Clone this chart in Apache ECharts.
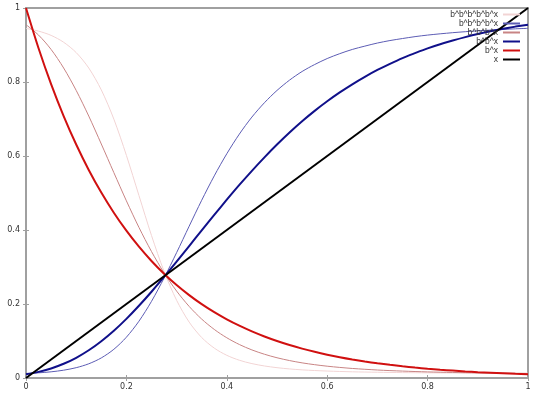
<!DOCTYPE html>
<html>
<head>
<meta charset="utf-8">
<script src="https://cdn.jsdelivr.net/npm/echarts@6/dist/echarts.min.js"></script>
<style>
  html, body { margin: 0; padding: 0; background: #fff; }
  #chart { width: 540px; height: 397px; }
</style>
</head>
<body>
<div id="chart"></div>
<script>
// sample positions along x
const xs = [0, 0.025, 0.05, 0.075, 0.1, 0.125, 0.15, 0.175, 0.2, 0.225, 0.25, 0.275, 0.3, 0.325, 0.35, 0.375, 0.4, 0.425, 0.45, 0.475, 0.5,
  0.525, 0.55, 0.575, 0.6, 0.625, 0.65, 0.675, 0.7, 0.725, 0.75, 0.775, 0.8, 0.825, 0.85, 0.875, 0.9, 0.925, 0.95, 0.975, 1];

// curve values
const bx = [1, 0.8913, 0.7943, 0.7079, 0.6310, 0.5623, 0.5012, 0.4467, 0.3981, 0.3548, 0.3162, 0.2818, 0.2512, 0.2239, 0.1995, 0.1778, 0.1585, 0.1413, 0.1259, 0.1122, 0.1,
  0.0891, 0.0794, 0.0708, 0.0631, 0.0562, 0.0501, 0.0447, 0.0398, 0.0355, 0.0316, 0.0282, 0.0251, 0.0224, 0.0200, 0.0178, 0.0158, 0.0141, 0.0126, 0.0112, 0.01];
const bbx = [0.01, 0.0165, 0.0258, 0.0384, 0.0547, 0.0750, 0.0995, 0.1278, 0.1599, 0.1952, 0.2331, 0.2731, 0.3145, 0.3566, 0.3990, 0.4409, 0.4819, 0.5218, 0.5600, 0.5964, 0.6310,
  0.6636, 0.6940, 0.7220, 0.7479, 0.7718, 0.7938, 0.8140, 0.8325, 0.8492, 0.8647, 0.8781, 0.8909, 0.9020, 0.9120, 0.9213, 0.9298, 0.9371, 0.9437, 0.9497, 0.9550];
const bbbx = [0.9550, 0.9268, 0.8880, 0.8378, 0.7772, 0.7079, 0.6324, 0.5551, 0.4788, 0.4070, 0.3418, 0.2842, 0.2350, 0.1935, 0.1592, 0.1313, 0.1087, 0.0905, 0.0759, 0.0642, 0.0547,
  0.0471, 0.0409, 0.0360, 0.0319, 0.0286, 0.0258, 0.0236, 0.0216, 0.0200, 0.0187, 0.0175, 0.0165, 0.0157, 0.0150, 0.0144, 0.0138, 0.0134, 0.0130, 0.0126, 0.0123];
const bbbbx = [0.0123, 0.0140, 0.0167, 0.0211, 0.0279, 0.0384, 0.0543, 0.0776, 0.1103, 0.1535, 0.2072, 0.2701, 0.3388, 0.4102, 0.4804, 0.5463, 0.6061, 0.6592, 0.7052, 0.7440, 0.7772,
  0.8051, 0.8284, 0.8472, 0.8634, 0.8766, 0.8880, 0.8970, 0.9053, 0.9120, 0.9175, 0.9226, 0.9268, 0.9302, 0.9333, 0.9359, 0.9384, 0.9401, 0.9419, 0.9437, 0.9450];
const bbbbbx = [0.9449, 0.9375, 0.9260, 0.9074, 0.8795, 0.8378, 0.7786, 0.6997, 0.6017, 0.4932, 0.3851, 0.2883, 0.2101, 0.1512, 0.1094, 0.0808, 0.0613, 0.0480, 0.0389, 0.0325, 0.0279,
  0.0245, 0.0220, 0.0202, 0.0188, 0.0177, 0.0167, 0.0161, 0.0155, 0.0150, 0.0146, 0.0143, 0.0140, 0.0138, 0.0136, 0.0134, 0.0133, 0.0132, 0.0131, 0.0130, 0.0129];
const lineX = [0, 1];
const lineY = [0, 1];

const tickLabels = ['0', '0.2', '0.4', '0.6', '0.8', '1'];

const zip = (a, b) => a.map((v, i) => [v, b[i]]);

const axisColor = '#a0a0a0';
const labelStyle = { color: '#333', fontSize: 8, fontFamily: 'DejaVu Sans' };

function curve(name, ys, color, width) {
  return {
    name: name,
    type: 'line',
    data: zip(xs, ys),
    symbol: 'none',
    smooth: 0.3,
    lineStyle: { color: color, width: width },
    itemStyle: { color: color },
    emphasis: { disabled: true }
  };
}

const chart = echarts.init(document.getElementById('chart'));

const option = {
  animation: false,
  grid: { left: 26, right: 12, top: 8, bottom: 19, show: true, borderColor: axisColor, borderWidth: 2 },
  legend: {
    orient: 'vertical',
    right: 20,
    top: 10,
    align: 'right',
    icon: 'rect',
    itemWidth: 17,
    itemHeight: 2,
    itemGap: 0,
    padding: 0,
    textStyle: { color: '#333', fontSize: 8.5, lineHeight: 8.8, fontFamily: 'Liberation Sans' },
    selectedMode: false
  },
  xAxis: [{
    type: 'value', min: 0, max: 1, interval: 0.2,
    axisLine: { show: false },
    axisTick: { inside: true, length: 3, lineStyle: { color: axisColor } },
    splitLine: { show: false },
    axisLabel: Object.assign({ margin: 5, formatter: v => tickLabels[Math.round(v * 5)] }, labelStyle)
  }, {
    type: 'value', min: 0, max: 1, interval: 0.2, position: 'top',
    axisLine: { show: false },
    axisTick: { inside: true, length: 3, lineStyle: { color: axisColor } },
    splitLine: { show: false },
    axisLabel: { show: false }
  }],
  yAxis: [{
    type: 'value', min: 0, max: 1, interval: 0.2,
    axisLine: { show: false },
    axisTick: { inside: true, length: 3, lineStyle: { color: axisColor } },
    splitLine: { show: false },
    axisLabel: Object.assign({ margin: 6, formatter: v => tickLabels[Math.round(v * 5)] }, labelStyle)
  }, {
    type: 'value', min: 0, max: 1, interval: 0.2, position: 'right',
    axisLine: { show: false },
    axisTick: { inside: true, length: 3, lineStyle: { color: axisColor } },
    splitLine: { show: false },
    axisLabel: { show: false }
  }],
  series: [
    curve('b^b^b^b^b^x', bbbbbx, '#f2d4d4', 1),
    curve('b^b^b^b^x', bbbbx, '#5c5cb4', 1),
    curve('b^b^b^x', bbbx, '#c88484', 1),
    curve('b^b^x', bbx, '#10108a', 2),
    curve('b^x', bx, '#d01010', 2),
    {
      name: 'x',
      type: 'line',
      data: zip(lineX, lineY),
      symbol: 'none',
      lineStyle: { color: '#000', width: 2 },
      itemStyle: { color: '#000' },
      emphasis: { disabled: true }
    }
  ]
};

chart.setOption(option);
</script>
</body>
</html>
